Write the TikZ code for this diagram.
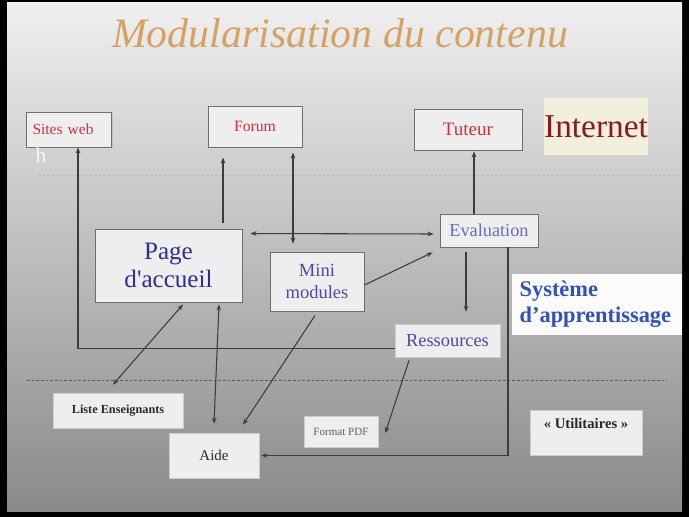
\documentclass[tikz,border=0pt]{standalone}
\usepackage{fontspec}
\setmainfont{Liberation Serif}
\usetikzlibrary{arrows.meta, positioning, calc, shadows}
\definecolor{mdtitle}{RGB}{214, 162, 98}
\definecolor{mdred}{RGB}{205, 50, 60}
\definecolor{mdwine}{RGB}{140, 25, 30}
\definecolor{mdblue}{RGB}{45, 45, 150}
\definecolor{mdviolet}{RGB}{80, 70, 170}
\definecolor{mdsky}{RGB}{100, 110, 190}
\definecolor{mdbold}{RGB}{50, 80, 190}
\definecolor{mdink}{RGB}{40, 40, 40}
\definecolor{mdline}{RGB}{60, 60, 60}
\definecolor{mdedge}{RGB}{110, 110, 110}
\definecolor{mdfill}{RGB}{238, 238, 238}
\definecolor{mdpale}{RGB}{240, 240, 220}

\begin{document}
\begin{tikzpicture}[x=0.75pt, y=-0.75pt, >={Stealth[length=4.5pt, width=3.5pt]},
  box/.style={draw=mdedge, fill=mdfill, line width=0.7pt, inner sep=0pt,
    drop shadow={shadow xshift=1pt, shadow yshift=-1pt, opacity=0.25}},
  lowbox/.style={draw=gray!40, fill=mdfill, line width=0.5pt, inner sep=0pt},
  link/.style={draw=mdline, line width=0.8pt}]

  % --- slide background ---
  \useasboundingbox (0,0) rectangle (689,517);
  \fill[black] (0,0) rectangle (689,517);
  \shade[top color=gray!12, middle color=gray!42, bottom color=gray!92!white]
    (7,3) rectangle (682,511);

  % --- title ---
  \node[anchor=base, font=\fontsize{31.4}{37}\selectfont\itshape, text=mdtitle]
    (title) at (340,48) {Modularisation du contenu};

  % --- internet level ---
  \node[box, minimum width=63.75pt, minimum height=26.25pt, text width=54.75pt, align=left,
    font=\fontsize{11.6}{14}\selectfont, text=mdred]
    (sites) at (69,129.5) {Sites web};
  \node[box, minimum width=70.5pt, minimum height=30.75pt, font=\fontsize{11.8}{14}\selectfont, text=mdred]
    (forum) at (255,126.5) {Forum};
  \node[box, minimum width=81pt, minimum height=30.75pt, font=\fontsize{14.3}{17}\selectfont, text=mdred]
    (tuteur) at (468,129.5) {Tuteur};
  \node[fill=mdpale, minimum width=73.5pt, minimum height=42.75pt, inner sep=0pt,
    font=\fontsize{25}{30}\selectfont, text=mdwine]
    (internet) at (596,126.5) {Internet};
  \node[font=\fontsize{16}{18}\selectfont, text=white, opacity=0.85]
    (stray) at (41,155) {h};

  % --- separators ---
  \draw[gray!55, dashed, line width=0.5pt, dash pattern=on 2pt off 1.5pt] (38,175) -- (680,175);
  \draw[gray!70!black, dashed, line width=0.5pt, dash pattern=on 2pt off 1.5pt] (27,380) -- (667,380);

  % --- learning system level ---
  \node[box, minimum width=110.25pt, minimum height=54.75pt, align=center,
    font=\fontsize{18.8}{20.5}\selectfont, text=mdblue]
    (accueil) at (168.5,265.5) {Page\\d\textquotesingle accueil};
  \node[box, minimum width=70.5pt, minimum height=44.25pt, align=center,
    font=\fontsize{13.9}{17}\selectfont, text=mdviolet]
    (mini) at (317,281.5) {Mini\\modules};
  \node[box, minimum width=73.5pt, minimum height=24.75pt, font=\fontsize{13.7}{16}\selectfont, text=mdsky]
    (eval) at (489,230.5) {Evaluation};
  \node[lowbox, minimum width=78.75pt, minimum height=24.75pt,
    font=\fontsize{13.8}{16}\selectfont, text=mdviolet]
    (ress) at (447.5,340.5) {Ressources};
  \node[fill=gray!3, minimum width=127.5pt, minimum height=45.75pt, inner sep=0pt,
    text width=116pt, align=left, font=\fontsize{16.8}{19.5}\selectfont\bfseries, text=mdbold]
    (systeme) at (597,304.5) {Système\\d’apprentissage};

  % --- utilities level ---
  \node[lowbox, minimum width=97.5pt, minimum height=26.25pt, font=\fontsize{9.2}{11}\selectfont\bfseries, text=mdink]
    (liste) at (118,410.5) {Liste Enseignants};
  \node[lowbox, minimum width=67.5pt, minimum height=33.75pt, font=\fontsize{11.2}{13}\selectfont, text=mdink]
    (aide) at (214,455.5) {Aide};
  \node[lowbox, minimum width=55.5pt, minimum height=23.25pt, font=\fontsize{8.3}{10}\selectfont, text=gray!75!black]
    (pdf) at (341,431.5) {Format PDF};
  \node[lowbox, minimum width=84pt, minimum height=33.75pt, text height=8pt, text depth=14pt,
    font=\fontsize{11}{13}\selectfont\bfseries, text=mdink]
    (util) at (586,432.5) {« Utilitaires »};

  % --- connections ---
  \draw[link, ->] (ress.west) ++(0,8) -| ($(sites.south)+(9,0)$);
  \draw[link, ->] ($(accueil.north)+(54.5,-6)$) -- ($(forum.south)+(-32,10)$);
  \draw[link, <->] ($(forum.south)+(38,5)$) -- ($(mini.north)+(-24,-8)$);
  \draw[link, <->] ($(accueil.north east)+(8,5)$) -- ($(eval.west)+(-6,3.5)$);
  \draw[link, ->] ($(mini.east)+(0,3.5)$) -- ($(eval.south west)+(-7,5)$);
  \draw[link, ->] ($(eval.north)+(-15,0)$) -- ($(tuteur.south)+(6,1)$);
  \draw[link, ->] ($(eval.south)+(-23,5)$) -- ($(ress.north)+(18.5,-12)$);
  \draw[link, ->] ($(eval.south)+(19,0)$) |- ($(aide.east)+(2,0)$);
  \draw[link, ->] ($(mini.south)+(-2,4)$) -- ($(aide.north)+(29,-8)$);
  \draw[link, <->] ($(accueil.south)+(14.5,2)$) -- ($(liste.north)+(-5,-8)$);
  \draw[link, <->] ($(accueil.south)+(50.5,2)$) -- ($(aide.north)+(0,-9)$);
  \draw[link, ->] ($(ress.south)+(-38.5,3)$) -- ($(pdf.east)+(7,1.5)$);

\end{tikzpicture}
\end{document}
